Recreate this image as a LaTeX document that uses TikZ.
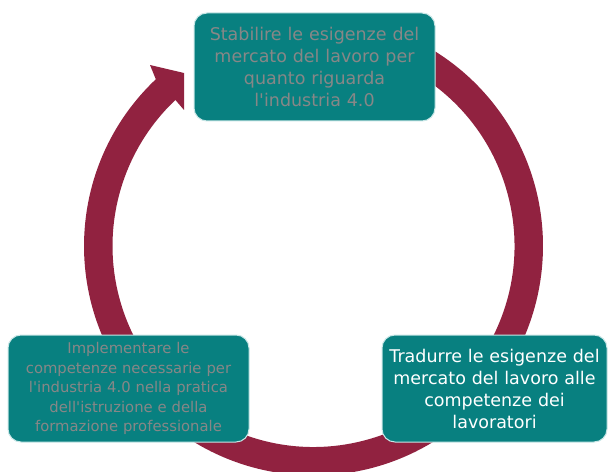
\documentclass[tikz,border=0pt]{standalone}
\usepackage{fontspec}
\setmainfont{DejaVu Sans}
\definecolor{tealbox}{RGB}{8,128,128}
\definecolor{ringred}{RGB}{145,34,64}
\definecolor{greytext}{RGB}{135,135,135}
\definecolor{boxedge}{RGB}{200,230,230}
\newcommand{\apos}{\textquotesingle}
\begin{document}
\begin{tikzpicture}[x=1pt,y=1pt,
  cyclebox/.style={draw=boxedge, line width=1pt, fill=tealbox, rounded corners=13pt,
    inner sep=0pt, align=center},
  bigtext/.style={font=\fontsize{17.5}{22}\selectfont},
  smalltext/.style={font=\fontsize{14.8}{19.5}\selectfont}]
\useasboundingbox (0,0) rectangle (609,471);
\fill[white] (0,0) rectangle (609,471);
\coordinate (C) at (313.5,225);
% ring with arrowhead
\fill[ringred] ([shift={(C)}]133.4:229.5) arc[start angle=133.4, end angle=463.4, radius=229.5]
  -- ([shift={(C)}]103.4:201) arc[start angle=463.4, end angle=133.4, radius=201]
  -- (184,361) -- (184,398) -- (150,406) -- cycle;
% boxes
\node[cyclebox, bigtext, text=greytext, minimum width=241pt, minimum height=108pt, text width=236pt]
  (top) at (314.5,404) {Stabilire le esigenze del\\mercato del lavoro per\\quanto riguarda\\l\apos industria 4.0};
\node[cyclebox, bigtext, text=white, minimum width=225pt, minimum height=107pt, text width=224pt]
  (right) at (494.5,82.5) {Tradurre le esigenze del\\mercato del lavoro alle\\competenze dei\\lavoratori};
\node[cyclebox, smalltext, text=greytext, minimum width=241pt, minimum height=107pt, text width=238pt]
  (left) at (128.5,82.5) {Implementare le\\competenze necessarie per\\l\apos industria 4.0 nella pratica\\dell\apos istruzione e della\\formazione professionale};
\end{tikzpicture}
\end{document}
